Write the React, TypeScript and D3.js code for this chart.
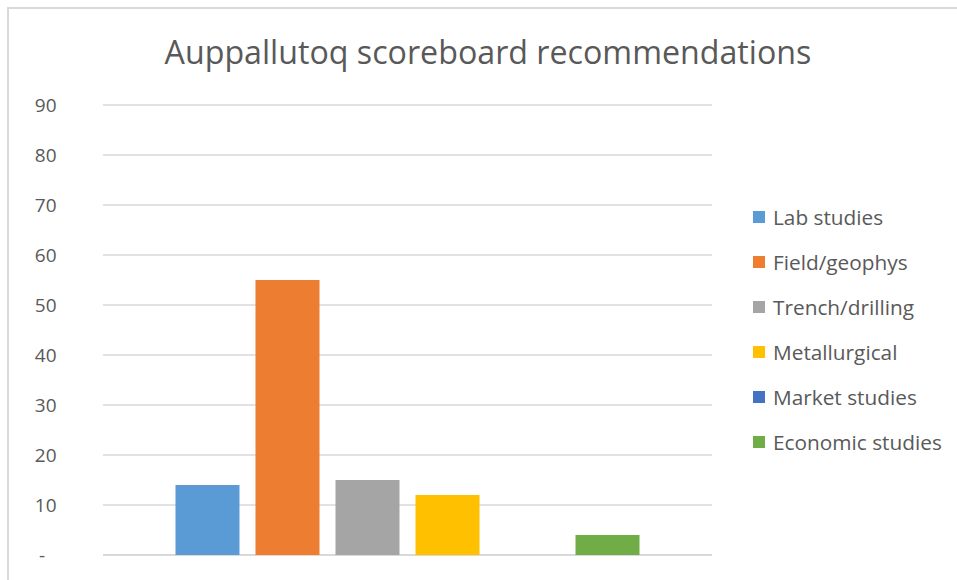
import React, { useEffect, useRef } from "react";
import * as d3 from "d3";

const title = "Auppallutoq scoreboard recommendations";
const seriesNames = ["Lab studies", "Field/geophys", "Trench/drilling", "Metallurgical", "Market studies", "Economic studies"];
const seriesValues = [14, 55, 15, 12, 0, 4];
const seriesColors = ["#5b9bd5", "#ed7d31", "#a5a5a5", "#ffc000", "#4472c4", "#70ad47"];
const yTicks = [0, 10, 20, 30, 40, 50, 60, 70, 80, 90];

const FONT = "'Open Sans', 'Liberation Sans', sans-serif";

const App: React.FC = () => {
  const svgRef = useRef<SVGSVGElement>(null);

  useEffect(() => {
    const width = 957;
    const height = 580;
    const plot = { left: 103, right: 712, top: 105, bottom: 555 };

    const svg = d3.select(svgRef.current);
    svg.selectAll("*").remove();

    // chart frame: only the top and left edges fall inside the crop
    svg.append("path")
      .attr("d", `M8,${height} V8 H${width}`)
      .attr("fill", "none")
      .attr("stroke", "#d9d9d9").attr("stroke-width", 2);

    svg.append("text")
      .attr("x", 488).attr("y", 64)
      .attr("text-anchor", "middle")
      .attr("font-family", FONT)
      .attr("font-size", 32.2)
      .attr("fill", "#595959")
      .text(title);

    const y = d3.scaleLinear().domain([0, 90]).range([plot.bottom, plot.top]);

    // gridlines
    svg.append("g")
      .selectAll("line")
      .data(yTicks)
      .join("line")
      .attr("x1", plot.left).attr("x2", plot.right)
      .attr("y1", d => y(d)).attr("y2", d => y(d))
      .attr("stroke", "#d9d9d9")
      .attr("stroke-width", d => (d === 0 ? 2 : 1.3));

    // y labels
    svg.append("g")
      .selectAll("text")
      .data(yTicks)
      .join("text")
      .attr("x", d => (d === 0 ? 45 : 56.5))
      .attr("y", d => y(d) + 6.5)
      .attr("text-anchor", "end")
      .attr("font-family", FONT)
      .attr("font-size", 19)
      .attr("fill", "#595959")
      .text(d => (d === 0 ? "-" : String(d)));

    // bars: one category, six series clustered
    const x = d3.scaleBand<string>()
      .domain(seriesNames)
      .range([plot.left, plot.right])
      .paddingInner(0.2)
      .paddingOuter(0.906);

    svg.append("g")
      .selectAll("rect")
      .data(seriesNames)
      .join("rect")
      .attr("x", d => x(d)!)
      .attr("width", x.bandwidth())
      .attr("y", (d, i) => y(seriesValues[i]))
      .attr("height", (d, i) => y(0) - y(seriesValues[i]))
      .attr("fill", (d, i) => seriesColors[i]);

    // legend
    const legend = svg.append("g")
      .selectAll("g")
      .data(seriesNames)
      .join("g")
      .attr("transform", (d, i) => `translate(753, ${217 + i * 45})`);

    legend.append("rect")
      .attr("x", 0).attr("y", -6)
      .attr("width", 12).attr("height", 12)
      .attr("fill", (d, i) => seriesColors[i]);

    legend.append("text")
      .attr("x", 20).attr("y", 7.5)
      .attr("font-family", FONT)
      .attr("font-size", 20.8)
      .attr("fill", "#595959")
      .text(d => d);
  }, []);

  return (
    <svg
      ref={svgRef}
      width={957}
      height={580}
      style={{ position: "absolute", left: 0, top: 0, background: "#fff" }}
    />
  );
};

export default App;
